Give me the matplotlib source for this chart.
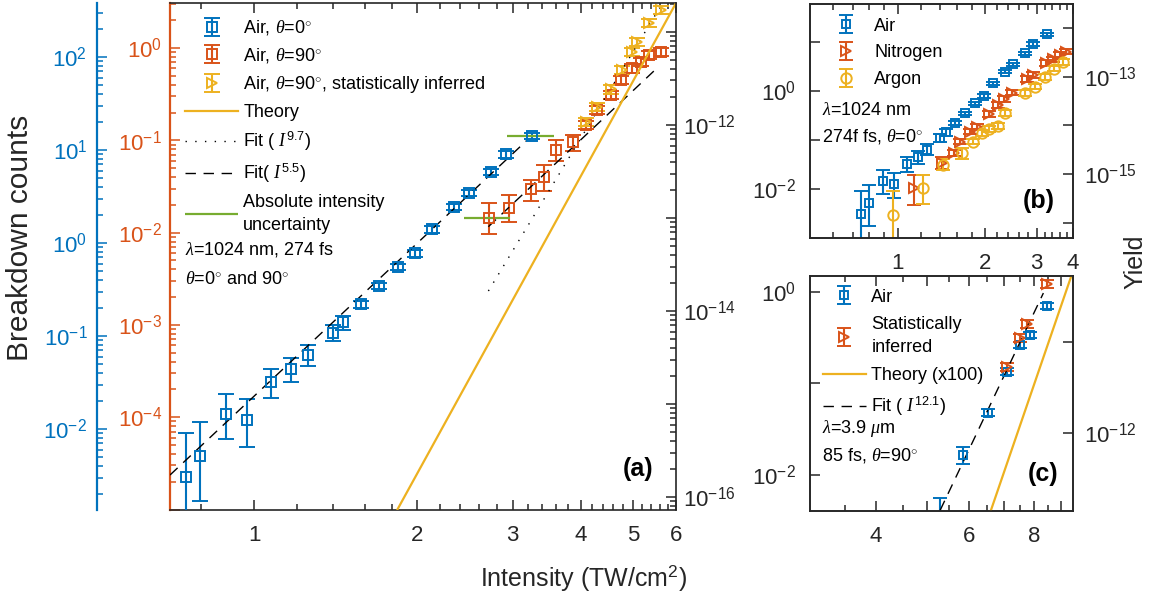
import numpy as np
import matplotlib
matplotlib.use('Agg')
import matplotlib.pyplot as plt
from matplotlib.ticker import FixedLocator, FuncFormatter, NullFormatter, NullLocator

plt.rcParams['font.family'] = ['Liberation Sans', 'DejaVu Sans']
plt.rcParams['mathtext.fontset'] = 'custom'
plt.rcParams['mathtext.rm'] = 'Liberation Sans'
plt.rcParams['mathtext.sf'] = 'Liberation Sans'
plt.rcParams['mathtext.it'] = 'Liberation Serif:italic'
plt.rcParams['mathtext.bf'] = 'Liberation Sans:bold'

# Colores por defecto de MATLAB
AZUL = '#0072BD'
NARANJA = '#D95319'
AMARILLO = '#EDB120'
VERDE = '#77AC30'
GRIS = '#262626'

# ---------- Datos: aire, theta=0 (panel a y panel b)
int_aire0 = [0.750, 0.795, 0.887, 0.969, 1.076, 1.172, 1.260, 1.397, 1.460, 1.576,
             1.700, 1.843, 1.977, 2.132, 2.334, 2.490, 2.730, 2.910, 3.260]
cuentas_aire0 = [3.07e-3, 5.16e-3, 0.0144, 0.0124, 0.0318, 0.0438, 0.0625, 0.1077, 0.140, 0.219,
                 0.345, 0.556, 0.774, 1.40, 2.45, 3.47, 5.80, 8.99, 14.2]
inf_aire0 = [5.0e-4, 1.68e-3, 7.9e-3, 6.46e-3, 0.0217, 0.032, 0.048, 0.089, 0.117, 0.202,
             0.318, 0.512, 0.713, 1.29, 2.26, 3.20, 5.35, 8.29, 13.1]
sup_aire0 = [9.06e-3, 0.0119, 0.024, 0.0212, 0.0445, 0.0585, 0.080, 0.130, 0.165, 0.237,
             0.373, 0.600, 0.836, 1.51, 2.65, 3.75, 6.26, 9.71, 15.3]

# ---------- Datos: aire, theta=90 (panel a)
int_aire90 = [2.709, 2.949, 3.243, 3.432, 3.612, 3.871, 4.087, 4.295, 4.544, 4.741,
              4.984, 5.163, 5.348, 5.620]
cuentas_aire90 = [0.01428, 0.01862, 0.02944, 0.04036, 0.0785, 0.0951, 0.1465, 0.2130, 0.3097, 0.4501,
                  0.6025, 0.711, 0.840, 0.912]
inf_aire90 = [0.00966, 0.01312, 0.02198, 0.02844, 0.0601, 0.0771, 0.132, 0.192, 0.279, 0.405,
              0.542, 0.640, 0.756, 0.821]
sup_aire90 = [0.0208, 0.0255, 0.0371, 0.054, 0.1007, 0.1141, 0.161, 0.234, 0.341, 0.495,
              0.663, 0.782, 0.924, 1.003]

# Aire, theta=90, inferido estadisticamente
int_inferido = [4.087, 4.295, 4.544, 4.771, 4.984, 5.090, 5.348, 5.620]
cuentas_inferido = [0.159, 0.231, 0.357, 0.578, 0.912, 1.17, 1.85, 2.58]
inf_inferido = [0.143, 0.208, 0.321, 0.520, 0.821, 1.05, 1.67, 2.32]
sup_inferido = [0.175, 0.254, 0.393, 0.636, 1.003, 1.29, 2.04, 2.84]

# Incertidumbre absoluta de intensidad (barras verdes)
incert_azul_x = [2.93, 3.57]
incert_azul_y = 14.2
incert_nar_x = [2.435, 2.97]
incert_nar_y = 0.01428

# Ajustes y teoria (extremos)
ajuste55_azul_x = [0.70, 3.19]
ajuste55_azul_y = [3.2e-3, 12.8]
ajuste55_nar_x = [2.705, 5.57]
ajuste55_nar_y = [0.01159, 0.627]
ajuste97_x = [2.705, 5.54]
ajuste97_y = [2.33e-3, 2.46]
teoria_a_x = [1.84, 6.0]
teoria_a_y = [7.4e-17, 2.04e-11]

# ---------- Datos panel (b): nitrogeno y argon
int_n2 = [1.140, 1.423, 1.560, 1.635, 1.778, 1.873, 2.053, 2.208, 2.327, 2.465,
          2.772, 2.922, 3.243, 3.418, 3.602, 3.793]
cuentas_n2 = [0.0102, 0.0330, 0.0527, 0.0910, 0.1456, 0.184, 0.334, 0.511, 0.667, 0.910,
              1.71, 2.09, 3.62, 4.37, 5.35, 6.25]
inf_n2 = [4.65e-3, 0.0249, 0.0460, 0.080, 0.128, 0.162, 0.294, 0.450, 0.587, 0.801,
          1.50, 1.84, 3.19, 3.85, 4.71, 5.50]
sup_n2 = [0.0190, 0.045, 0.0600, 0.104, 0.166, 0.210, 0.381, 0.583, 0.760, 1.04,
          1.95, 2.38, 4.13, 4.98, 6.10, 7.13]

int_ar = [0.962, 1.217, 1.431, 1.665, 1.811, 1.943, 2.053, 2.208, 2.340, 2.737,
          2.960, 3.203, 3.444, 3.706]
cuentas_ar = [2.90e-3, 0.0102, 0.0305, 0.0528, 0.091, 0.137, 0.165, 0.1905, 0.346, 0.885,
              1.21, 1.90, 2.81, 3.85]
inf_ar = [4.0e-4, 4.87e-3, 0.0241, 0.0404, 0.080, 0.121, 0.145, 0.168, 0.305, 0.779,
          1.06, 1.67, 2.47, 3.39]
sup_ar = [9.1e-3, 0.0190, 0.0398, 0.0677, 0.104, 0.156, 0.188, 0.217, 0.394, 1.01,
          1.38, 2.17, 3.20, 4.39]

# ---------- Datos panel (c): 3.9 um
int_c_aire = [5.30, 5.85, 6.54, 7.09, 7.51, 7.85, 8.44]
cuentas_c_aire = [3.24e-3, 0.01656, 0.0479, 0.134, 0.2625, 0.337, 0.698]
inf_c_aire = [2.0e-3, 0.0132, 0.0440, 0.123, 0.241, 0.310, 0.642]
sup_c_aire = [5.58e-3, 0.0204, 0.0521, 0.146, 0.285, 0.366, 0.755]

int_c_inf = [7.09, 7.51, 7.74, 8.44]
cuentas_c_inf = [0.152, 0.310, 0.444, 1.21]
inf_c_inf = [0.137, 0.279, 0.400, 1.09]
sup_c_inf = [0.167, 0.341, 0.488, 1.33]

ajuste121_x = [5.30, 8.32]
ajuste121_y = [4.13e-3, 0.966]
teoria_c_x = [6.6, 9.5]
teoria_c_y = [1.35e-13, 6.3e-11]


def barras(ax, x, y, inf, sup, color, marker, ms, cap=5.5):
    y = np.array(y)
    yerr = [y - np.array(inf), np.array(sup) - y]
    return ax.errorbar(x, y, yerr=yerr, fmt=marker, color=color, mfc='none', mec=color,
                       ms=ms, mew=1.4, elinewidth=1.5, capsize=cap, capthick=1.5)


def potencias(exponentes):
    def f(v, pos):
        e = int(round(np.log10(v)))
        return r'$10^{%d}$' % e if e in exponentes else ''
    return FuncFormatter(f)


def eje_y(ax, exps, etiquetas, color=GRIS, menores=True, pad=5):
    ax.yaxis.set_major_locator(FixedLocator([10.0 ** e for e in exps]))
    ax.yaxis.set_major_formatter(potencias(etiquetas))
    ax.yaxis.set_minor_formatter(NullFormatter())
    if not menores:
        ax.yaxis.set_minor_locator(NullLocator())
    ax.tick_params(axis='y', which='both', direction='in', colors=color, labelsize=16, pad=pad)
    ax.tick_params(axis='y', which='major', length=7.5, width=1.1)
    ax.tick_params(axis='y', which='minor', length=4.5, width=1.1)


def eje_x(ax, mayores, menores, etiquetas):
    ax.xaxis.set_major_locator(FixedLocator(mayores))
    ax.xaxis.set_minor_locator(FixedLocator(menores))
    ax.xaxis.set_major_formatter(FuncFormatter(lambda v, p: '%g' % v if round(v, 3) in etiquetas else ''))
    ax.xaxis.set_minor_formatter(NullFormatter())
    ax.tick_params(axis='x', which='both', direction='in', colors=GRIS, labelsize=16, pad=11, top=True)
    ax.tick_params(axis='x', which='major', length=7.5, width=1.1)
    ax.tick_params(axis='x', which='minor', length=4.5, width=1.1)


fig = plt.figure(figsize=(11.51, 5.98), dpi=100)
W, H = 1151, 598


def ejes_px(x0, y0, x1, y1):
    return fig.add_axes([x0 / W, 1 - y1 / H, (x1 - x0) / W, (y1 - y0) / H])


# =============== Panel (a)
ax_a = ejes_px(170, 3, 676, 510)
ax_a.set_xscale('log')
ax_a.set_yscale('log')
ax_a.set_xlim(0.7, 6)
ax_a.set_ylim(10 ** -5.005, 10 ** 0.4875)
ax_az = ax_a.twinx()
ax_az.set_yscale('log')
ax_az.set_ylim(10 ** -2.871, 10 ** 2.581)
ax_ra = ax_a.twinx()
ax_ra.set_yscale('log')
ax_ra.set_ylim(10 ** -16.14, 10 ** -10.69)

for s in ax_a.spines.values():
    s.set_color(GRIS)
    s.set_linewidth(1.2)
ax_a.spines['left'].set_color(NARANJA)
ax_a.spines['left'].set_linewidth(1.6)
ax_a.spines['right'].set_visible(False)
for nombre in ['right', 'top', 'bottom']:
    ax_az.spines[nombre].set_visible(False)
ax_az.spines['left'].set_visible(True)
ax_az.spines['left'].set_position(('axes', -73 / 506))
ax_az.spines['left'].set_color(AZUL)
ax_az.spines['left'].set_linewidth(1.6)
ax_az.yaxis.tick_left()
for nombre in ['left', 'top', 'bottom']:
    ax_ra.spines[nombre].set_visible(False)
ax_ra.spines['right'].set_color(GRIS)
ax_ra.spines['right'].set_linewidth(1.2)

eje_x(ax_a, [1, 2, 3, 4, 5, 6], [0.8] + [v for v in np.arange(1.2, 5.9, 0.2) if abs(v - round(v)) > 0.05],
      [1, 2, 3, 4, 5, 6])
eje_y(ax_a, range(-5, 1), range(-4, 1), color=NARANJA, pad=6)
eje_y(ax_az, range(-2, 3), range(-2, 3), color=AZUL, pad=7)
eje_y(ax_ra, range(-16, -10), [-16, -14, -12])

h_aire0 = barras(ax_az, int_aire0, cuentas_aire0, inf_aire0, sup_aire0, AZUL, 's', 6.5)
ax_az.plot(ajuste55_azul_x, ajuste55_azul_y, color='k', lw=1.0, dashes=(7.5, 5.5))
ax_az.hlines(incert_azul_y, incert_azul_x[0], incert_azul_x[1], color=VERDE, lw=1.6)

h_aire90 = barras(ax_a, int_aire90, cuentas_aire90, inf_aire90, sup_aire90, NARANJA, 's', 6.5)
h_inf = barras(ax_a, int_inferido, cuentas_inferido, inf_inferido, sup_inferido, AMARILLO, '>', 7)
l97, = ax_a.plot(ajuste97_x, ajuste97_y, color='k', lw=1.0, dashes=(1, 6))
l55, = ax_a.plot(ajuste55_nar_x, ajuste55_nar_y, color='k', lw=1.0, dashes=(7.5, 5.5))
l_verde = ax_a.hlines(incert_nar_y, incert_nar_x[0], incert_nar_x[1], color=VERDE, lw=1.6)
l_teo, = ax_ra.plot(teoria_a_x, teoria_a_y, color=AMARILLO, lw=1.6)

leg = ax_ra.legend([h_aire0, h_aire90, h_inf, l_teo, l97, l55, l_verde],
                   [r'Air, $\theta$=0$^{\circ}$', r'Air, $\theta$=90$^{\circ}$',
                    r'Air, $\theta$=90$^{\circ}$, statistically inferred', 'Theory',
                    r'Fit ( $I^{9.7}$)', r'Fit( $I^{5.5}$)', 'Absolute intensity\nuncertainty'],
                   loc='upper left', bbox_to_anchor=(0.0, 1.0), frameon=False, fontsize=13,
                   handlelength=2.9, handletextpad=0.3, labelspacing=0.49, borderaxespad=0.45,
                   numpoints=1)
for t in leg.get_texts():
    t.set_linespacing(1.45)
ax_a.text(0.03, 0.513, r'$\lambda$=1024 nm, 274 fs', transform=ax_a.transAxes, fontsize=13, va='center')
ax_a.text(0.03, 0.454, r'$\theta$=0$^{\circ}$ and 90$^{\circ}$', transform=ax_a.transAxes, fontsize=13,
          va='center')
ax_a.text(0.955, 0.081, '(a)', transform=ax_a.transAxes, fontsize=18, fontweight='bold',
          ha='right', va='center')

# =============== Panel (b)
ax_b = ejes_px(810, 4, 1073, 238)
ax_b.set_xscale('log')
ax_b.set_yscale('log')
ax_b.set_xlim(0.5, 4)
ax_b.set_ylim(10 ** -3.01, 10 ** 1.77)
ax_rb = ax_b.twinx()
ax_rb.set_yscale('log')
ax_rb.set_ylim(10 ** -16.31, 10 ** -11.51)
eje_x(ax_b, [1, 2, 3, 4], [0.6, 0.7, 0.8, 0.9] + [v for v in np.arange(1.2, 4, 0.2) if abs(v - round(v)) > 0.05],
      [1, 2, 3, 4])
eje_y(ax_b, range(-3, 2), [-2, 0], menores=False, pad=10)
eje_y(ax_rb, range(-16, -11), [-15, -13], menores=False, pad=8)
for a in (ax_b, ax_rb):
    for s in a.spines.values():
        s.set_color(GRIS)
        s.set_linewidth(1.2)

hb_aire = barras(ax_b, int_aire0, cuentas_aire0, inf_aire0, sup_aire0, AZUL, 's', 6, cap=4.8)
hb_n2 = barras(ax_b, int_n2, cuentas_n2, inf_n2, sup_n2, NARANJA, '>', 7, cap=4.8)
hb_ar = barras(ax_b, int_ar, cuentas_ar, inf_ar, sup_ar, AMARILLO, 'o', 7.5, cap=4.8)
ax_rb.legend([hb_aire, hb_n2, hb_ar], ['Air', 'Nitrogen', 'Argon'], loc='upper left',
             bbox_to_anchor=(0.0, 1.0), frameon=False, fontsize=13, handlelength=2.5,
             handletextpad=0.3, labelspacing=0.55, borderaxespad=0.35, numpoints=1)
ax_b.text(0.044, 0.547, r'$\lambda$=1024 nm', transform=ax_b.transAxes, fontsize=13, va='center')
ax_b.text(0.044, 0.433, r'274f fs, $\theta$=0$^{\circ}$', transform=ax_b.transAxes, fontsize=13,
          va='center')
ax_b.text(0.932, 0.156, '(b)', transform=ax_b.transAxes, fontsize=18, fontweight='bold',
          ha='right', va='center')

# =============== Panel (c)
ax_c = ejes_px(810, 276, 1073, 510.7)
ax_c.set_xscale('log')
ax_c.set_yscale('log')
ax_c.set_xlim(3.0, 9.47)
ax_c.set_ylim(10 ** -2.39, 10 ** 0.171)
ax_rc = ax_c.twinx()
ax_rc.set_yscale('log')
ax_rc.set_ylim(10 ** -12.857, 10 ** -10.278)
eje_x(ax_c, [4, 5, 6, 7, 8, 9], list(np.arange(3.5, 9.5, 1.0)), [4, 6, 8])
eje_y(ax_c, range(-2, 1), [-2, 0], menores=False, pad=10)
eje_y(ax_rc, range(-12, -10), [-12], menores=False, pad=8)
for a in (ax_c, ax_rc):
    for s in a.spines.values():
        s.set_color(GRIS)
        s.set_linewidth(1.2)

hc_aire = barras(ax_c, int_c_aire, cuentas_c_aire, inf_c_aire, sup_c_aire, AZUL, 's', 6, cap=4.8)
hc_inf = barras(ax_c, int_c_inf, cuentas_c_inf, inf_c_inf, sup_c_inf, NARANJA, '>', 7, cap=4.8)
lc_fit, = ax_c.plot(ajuste121_x, ajuste121_y, color='k', lw=1.0, dashes=(7.5, 5.5))
lc_teo, = ax_rc.plot(teoria_c_x, teoria_c_y, color=AMARILLO, lw=1.6)
leg_c = ax_rc.legend([hc_aire, hc_inf, lc_teo, lc_fit],
                     ['Air', 'Statistically\ninferred', 'Theory (x100)', r'Fit ( $I^{12.1}$)'],
                     loc='upper left', bbox_to_anchor=(0.0, 1.0), frameon=False, fontsize=13,
                     handlelength=2.4, handletextpad=0.3, labelspacing=0.6, borderaxespad=0.3,
                     numpoints=1)
for t in leg_c.get_texts():
    t.set_linespacing(1.45)
ax_c.text(0.044, 0.352, r'$\lambda$=3.9 $\mu$m', transform=ax_c.transAxes, fontsize=13, va='center')
ax_c.text(0.044, 0.237, r'85 fs, $\theta$=90$^{\circ}$', transform=ax_c.transAxes, fontsize=13,
          va='center')
ax_c.text(0.943, 0.156, '(c)', transform=ax_c.transAxes, fontsize=18, fontweight='bold',
          ha='right', va='center')

# Etiquetas generales
fig.text(20 / W, 1 - 238 / H, 'Breakdown counts', rotation=90, fontsize=21.5, color=GRIS,
         ha='center', va='center')
fig.text(583 / W, 1 - 578 / H, 'Intensity (TW/cm$^{2}$)', fontsize=18, color=GRIS,
         ha='center', va='center')
fig.text(1135 / W, 1 - 262 / H, 'Yield', rotation=90, fontsize=18, color=GRIS,
         ha='center', va='center')

fig.savefig('out.png', dpi=100)
